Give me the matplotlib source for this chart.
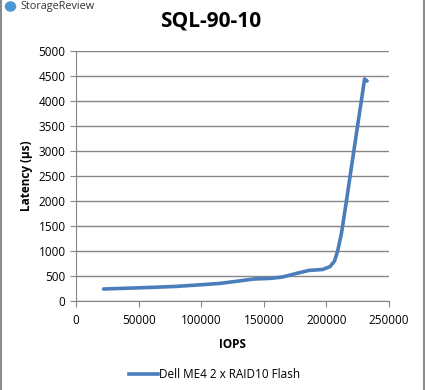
import matplotlib
matplotlib.use("Agg")
import matplotlib.pyplot as plt
from matplotlib.lines import Line2D
from matplotlib.patches import Circle
import numpy as np

title = "SQL-90-10"
series_name = "Dell ME4 2 x RAID10 Flash"
iops = [22000, 40000, 60000, 80000, 100000, 115000, 130000, 142000, 155000,
        165000, 175000, 186000, 197000, 203000, 206500, 209000, 212000,
        216000, 220000, 224000, 228000, 230500, 232500]
latency = [240, 255, 272, 292, 325, 352, 400, 440, 452,
           480, 545, 612, 630, 690, 800, 1000, 1350,
           2000, 2680, 3350, 4020, 4440, 4400]
xticks = [0, 50000, 100000, 150000, 200000, 250000]
yticks = [0, 500, 1000, 1500, 2000, 2500, 3000, 3500, 4000, 4500, 5000]

plt.rcParams['font.family'] = ['Open Sans', 'DejaVu Sans']

fig = plt.figure(figsize=(4.25, 3.9), dpi=100)
ax = fig.add_axes([76/425, 1-301/390, 313/425, 250/390])

grid_c = '#868686'
ax.plot(iops, latency, color='#4a7ebb', lw=2.6, solid_capstyle='round',
        solid_joinstyle='round')
ax.set_xlim(0, 250000)
ax.set_ylim(0, 5000)
ax.set_xticks(xticks)
ax.set_yticks(yticks)
ax.set_xticklabels([str(v) for v in xticks], fontsize=8.5)
ax.set_yticklabels([str(v) for v in yticks], fontsize=8.5)
ax.yaxis.grid(True, color=grid_c, lw=1)
ax.set_axisbelow(True)
for s in ['top', 'right']:
    ax.spines[s].set_visible(False)
for s in ['left', 'bottom']:
    ax.spines[s].set_color(grid_c)
ax.tick_params(axis='both', direction='out', length=4, color=grid_c,
               labelcolor='black')
ax.tick_params(axis='x', pad=5)
ax.set_xlabel('IOPS', fontsize=8.5, fontweight='bold', labelpad=8)
ax.set_ylabel('Latency (µs)', fontsize=8.5, fontweight='bold', labelpad=4)

fig.text(0.495, 1-21/390, title, ha='center', va='center', fontsize=15,
         fontweight='bold')

# logo
fig.text(20/425, 1-6.5/390, 'StorageReview', ha='left', va='center', fontsize=7.8,
         color='#333333')
fig.patches.append(Circle((10.5/425, 1-6.5/390), 0.0135, transform=fig.transFigure,
                          facecolor='#4a97d6', edgecolor='none'))

h = Line2D([0], [0], color='#4a7ebb', lw=2.6)
fig.legend([h], [series_name], loc='center', bbox_to_anchor=(0.505, 1-375/390),
           frameon=False, fontsize=8.5, handlelength=2.5, handletextpad=0.1)

# chart border lines
fig.add_artist(Line2D([0.5/425, 0.5/425], [0, 1], transform=fig.transFigure,
                      color='#8c8c8c', lw=1.5))
fig.add_artist(Line2D([423.5/425, 423.5/425], [0, 1], transform=fig.transFigure,
                      color='#8c8c8c', lw=1.5))

fig.savefig('out.png', dpi=100)
